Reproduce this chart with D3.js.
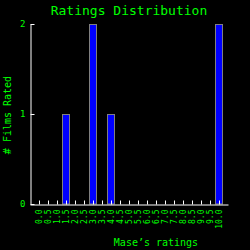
<!DOCTYPE html>
<html><head><meta charset="utf-8">
<script src="https://cdn.jsdelivr.net/npm/d3@7"></script>
<style>html,body{margin:0;padding:0;background:#000;}svg{display:block;}</style>
</head><body>
<svg id="c" width="250" height="250"></svg>
<script>
const categories = ["0.0","0.5","1.0","1.5","2.0","2.5","3.0","3.5","4.0","4.5","5.0","5.5","6.0","6.5","7.0","7.5","8.0","8.5","9.0","9.5","10.0"];
const counts = [0,0,0,1,0,0,2,0,1,0,0,0,0,0,0,0,0,0,0,0,2];
const yTicks = [0,1,2];

const green = "#00ff00";
const font = "DejaVu Sans Mono";
const svg = d3.select("#c");
svg.append("rect").attr("width",250).attr("height",250).attr("fill","#000");

const x = d3.scalePoint().domain(categories).range([30,228]).padding(1);
const y = d3.scaleLinear().domain([0,2]).range([204,24]);

const data = categories.map((c,i)=>({c, v: counts[i]}));
svg.append("g").selectAll("rect").data(data.filter(d=>d.v>0)).join("rect")
  .attr("x", d=>x(d.c)-3.5).attr("width",7)
  .attr("y", d=>y(d.v)+0.5).attr("height", d=>y(0)-y(d.v)-0.5)
  .attr("fill","#0000ff").attr("stroke","#808080").attr("stroke-width",1);

const xa = svg.append("g").attr("transform","translate(0,204.5)")
  .call(d3.axisBottom(x).tickSizeInner(-4).tickSizeOuter(0).tickPadding(5));
xa.selectAll("path,line").attr("stroke","#fff");
xa.selectAll("text").attr("fill",green).attr("font-family",font).attr("font-size",8)
  .attr("transform","rotate(-90)").attr("text-anchor","end")
  .attr("x",-5).attr("y",0).attr("dy","0.35em");

const ya = svg.append("g").attr("transform","translate(30.5,0)")
  .call(d3.axisLeft(y).tickValues(yTicks).tickFormat(d3.format("d")).tickSizeInner(-4).tickSizeOuter(0).tickPadding(5));
ya.selectAll("path,line").attr("stroke","#fff");
ya.selectAll("text").attr("fill",green).attr("font-family",font).attr("font-size",9);

svg.append("text").attr("x",129).attr("y",15).attr("text-anchor","middle")
  .attr("fill",green).attr("font-family",font).attr("font-size",13).text("Ratings Distribution");
svg.append("text").attr("x",156).attr("y",246).attr("text-anchor","middle")
  .attr("fill",green).attr("font-family",font).attr("font-size",10).text("Mase’s ratings");
svg.append("text").attr("transform","translate(10.5,115) rotate(-90)").attr("text-anchor","middle")
  .attr("fill",green).attr("font-family",font).attr("font-size",10).text("# Films Rated");
</script>
</body></html>
